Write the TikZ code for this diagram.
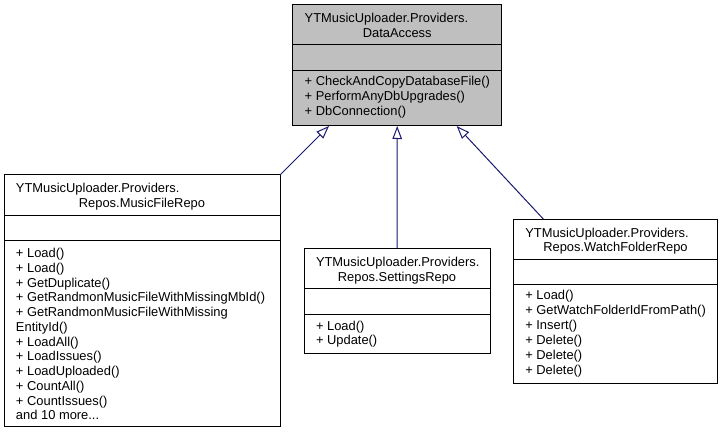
\documentclass[tikz,border=0pt]{standalone}
\usepackage{fontspec}
\setmainfont{Liberation Sans}
\usetikzlibrary{arrows.meta}
\definecolor{edgeblue}{HTML}{191970}
\definecolor{topgray}{HTML}{BFBFBF}
\newcommand\mydots{...}
\tikzset{
  classbox/.style={draw=black, line width=1pt, fill=white, inner sep=0pt, outer sep=0pt, anchor=north west},
  basebox/.style={classbox, fill=topgray},
  sepline/.style={draw=black, line width=1pt},
  txt/.style={inner sep=0pt, outer sep=0pt, font=\fontsize{12.9}{15}\selectfont, text=black},
  ltxt/.style={txt, anchor=base west},
  ctxt/.style={txt, anchor=base},
  inherit/.style={draw=edgeblue, line width=1pt, -{Triangle[length=13pt, width=9.5pt, fill=white]}}
}
\begin{document}
\begin{tikzpicture}[x=1pt, y=-1pt]
\useasboundingbox (0,0) rectangle (723,433);
\fill[white] (0,0) rectangle (723,433);

% boxes
\node[basebox, minimum width=209pt, minimum height=121pt] (da) at (292.7,5) {};
\node[classbox, minimum width=276pt, minimum height=251.7pt] (mfr) at (4,175) {};
\node[classbox, minimum width=186pt, minimum height=105pt] (set) at (304,248.3) {};
\node[classbox, minimum width=204.4pt, minimum height=164.3pt] (wf) at (513.3,219) {};

\foreach \b in {da,mfr,set,wf}{
  \draw[sepline] ([yshift=-40pt]\b.north west) -- ([yshift=-40pt]\b.north east);
  \draw[sepline] ([yshift=-65.7pt]\b.north west) -- ([yshift=-65.7pt]\b.north east);
}

% DataAccess
\node[ltxt] (dat1) at (304.7,22.5) {YTMusicUploader.Providers.};
\node[ctxt] (dat2) at (397.2,37.2) {DataAccess};
\foreach \t [count=\i] in {{+ CheckAndCopyDatabaseFile()},{+ PerformAnyDbUpgrades()},{+ DbConnection()}}
  \node[ltxt] (dam\i) at (304.7,{86+14.85*(\i-1)}) {\t};

% MusicFileRepo
\node[ltxt] (mfrt1) at (16,192.5) {YTMusicUploader.Providers.};
\node[ctxt] (mfrt2) at (142,207.2) {Repos.MusicFileRepo};
\foreach \t [count=\i] in {{+ Load()},{+ Load()},{+ GetDuplicate()},{+ GetRandmonMusicFileWithMissingMbId()},{+ GetRandmonMusicFileWithMissing},{EntityId()},{+ LoadAll()},{+ LoadIssues()},{+ LoadUploaded()},{+ CountAll()},{+ CountIssues()},{and 10 more\mydots}}
  \node[ltxt] (mfrm\i) at (16,{257.5+14.75*(\i-1)}) {\t};

% SettingsRepo
\node[ltxt] (sett1) at (316,266.3) {YTMusicUploader.Providers.};
\node[ctxt] (sett2) at (397,281) {Repos.SettingsRepo};
\foreach \t [count=\i] in {{+ Load()},{+ Update()}}
  \node[ltxt] (setm\i) at (316,{330+14.85*(\i-1)}) {\t};

% WatchFolderRepo
\node[ltxt] (wft1) at (525.3,237) {YTMusicUploader.Providers.};
\node[ctxt] (wft2) at (615.5,251.6) {Repos.WatchFolderRepo};
\foreach \t [count=\i] in {{+ Load()},{+ GetWatchFolderIdFromPath()},{+ Insert()},{+ Delete()},{+ Delete()},{+ Delete()}}
  \node[ltxt] (wfm\i) at (525.3,{299.8+14.85*(\i-1)}) {\t};

% connectors
\coordinate (daL) at ([xshift=36.3pt]da.south west);
\coordinate (daR) at ([xshift=-45pt]da.south east);
\coordinate (wfL) at ([xshift=30pt]wf.north west);
\draw[inherit] (mfr.north east) -- (daL);
\draw[inherit] (set.north) -- (da.south);
\draw[inherit] (wfL) -- (daR);
\end{tikzpicture}
\end{document}
